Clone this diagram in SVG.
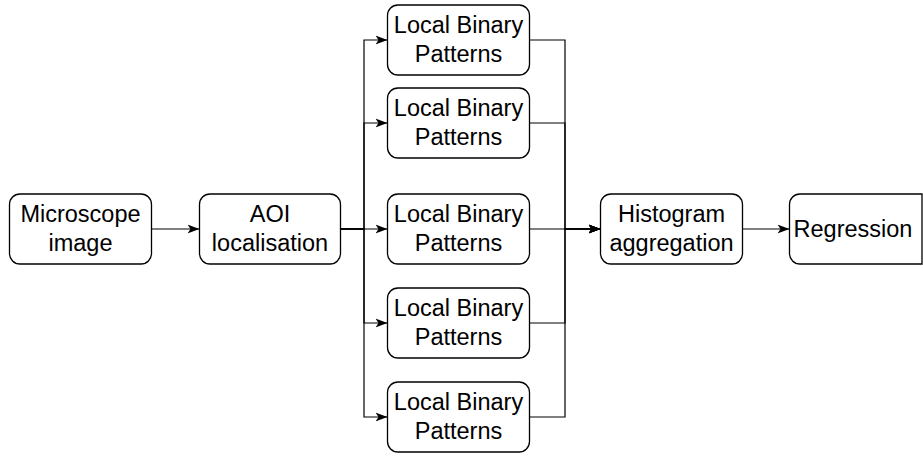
<svg xmlns="http://www.w3.org/2000/svg" width="923" height="456" viewBox="0 0 923 456">
<defs>
<style>
.box{fill:#fff;stroke:#000;stroke-width:1.3}
.t{font-family:"Liberation Sans",Arial,Helvetica,sans-serif;font-size:23.5px;fill:#000;text-anchor:middle}
.c{fill:none;stroke:#000;stroke-width:1.2}
</style>
<marker id="a" viewBox="0 0 12 10" refX="11.5" refY="5" markerWidth="12" markerHeight="10" markerUnits="userSpaceOnUse" orient="auto">
<path d="M0,0.5 L12,5 L0,9.5 L3,5 Z" fill="#000"/>
</marker>
</defs>
<rect width="923" height="456" fill="#fff"/>
<g id="connectors">
<path class="c" d="M151.5,229 H199" marker-end="url(#a)"/>
<path class="c" d="M340.5,229 H364 V40 H387" marker-end="url(#a)"/>
<path class="c" d="M340.5,229 H364 V123 H387" marker-end="url(#a)"/>
<path class="c" d="M340.5,229 H387" marker-end="url(#a)"/>
<path class="c" d="M340.5,229 H364 V323 H387" marker-end="url(#a)"/>
<path class="c" d="M340.5,229 H364 V417 H387" marker-end="url(#a)"/>
<path class="c" d="M529.5,40 H565 V229 H600" marker-end="url(#a)"/>
<path class="c" d="M529.5,123 H565 V229 H600" marker-end="url(#a)"/>
<path class="c" d="M529.5,229 H600" marker-end="url(#a)"/>
<path class="c" d="M529.5,323 H565 V229 H600" marker-end="url(#a)"/>
<path class="c" d="M529.5,417 H565 V229 H600" marker-end="url(#a)"/>
<path class="c" d="M742.5,229 H789" marker-end="url(#a)"/>
</g>
<g id="microscope">
<rect class="box" x="9.5" y="194" width="142" height="70" rx="10.5"/>
<text class="t" x="80.5" y="222">Microscope</text>
<text class="t" x="80.5" y="251">image</text>
</g>
<g id="aoi">
<rect class="box" x="199.5" y="194" width="141" height="70" rx="10.5"/>
<text class="t" x="270" y="222">AOI</text>
<text class="t" x="270" y="251">localisation</text>
</g>
<g id="lbp1">
<rect class="box" x="387.5" y="5" width="142" height="70" rx="10.5"/>
<text class="t" x="458.5" y="33">Local Binary</text>
<text class="t" x="458.5" y="62">Patterns</text>
</g>
<g id="lbp2">
<rect class="box" x="387.5" y="88" width="142" height="70" rx="10.5"/>
<text class="t" x="458.5" y="116">Local Binary</text>
<text class="t" x="458.5" y="145">Patterns</text>
</g>
<g id="lbp3">
<rect class="box" x="387.5" y="194" width="142" height="70" rx="10.5"/>
<text class="t" x="458.5" y="222">Local Binary</text>
<text class="t" x="458.5" y="251">Patterns</text>
</g>
<g id="lbp4">
<rect class="box" x="387.5" y="288" width="142" height="70" rx="10.5"/>
<text class="t" x="458.5" y="316">Local Binary</text>
<text class="t" x="458.5" y="345">Patterns</text>
</g>
<g id="lbp5">
<rect class="box" x="387.5" y="382" width="142" height="70" rx="10.5"/>
<text class="t" x="458.5" y="410">Local Binary</text>
<text class="t" x="458.5" y="439">Patterns</text>
</g>
<g id="histogram">
<rect class="box" x="600.5" y="194" width="142" height="70" rx="10.5"/>
<text class="t" x="671.5" y="222">Histogram</text>
<text class="t" x="671.5" y="251">aggregation</text>
</g>
<g id="regression">
<path class="box" d="M922,194 H800 A10.5,10.5 0 0 0 789.5,204.5 V253.5 A10.5,10.5 0 0 0 800,264 H922 Z"/>
<text class="t" x="853" y="237">Regression</text>
</g>
</svg>
